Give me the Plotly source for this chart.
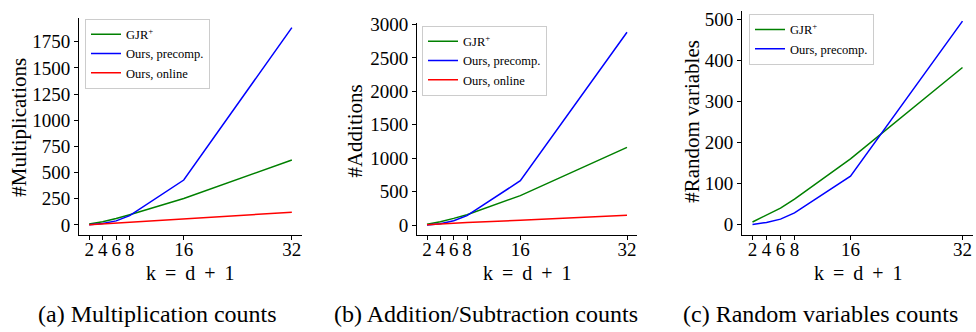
import plotly.graph_objects as go

k = [2, 4, 6, 8, 16, 32]
x_ticks = [2, 4, 6, 8, 16, 32]

mult_gjr = [8, 30, 60, 96, 252, 619]
mult_pre = [0, 12, 38, 88, 428, 1885]
mult_onl = [2, 10, 17, 25, 55, 121]

add_gjr = [12, 50, 100, 155, 440, 1161]
add_pre = [0, 20, 65, 141, 663, 2884]
add_onl = [3, 15, 28, 40, 70, 146]

rand_gjr = [6, 22, 40, 62, 160, 383]
rand_pre = [0, 5, 13, 28, 118, 496]

names = ["GJR<sup>+</sup>", "Ours, precomp.", "Ours, online"]
colors = ["#008000", "#0000ff", "#ff0000"]

y1_ticks = [0, 250, 500, 750, 1000, 1250, 1500, 1750]
y2_ticks = [0, 500, 1000, 1500, 2000, 2500, 3000]
y3_ticks = [0, 100, 200, 300, 400, 500]

y_titles = ["#Multiplications", "#Additions", "#Random variables"]
x_title = "k = d + 1"
captions = ["(a) Multiplication counts", "(b) Addition/Subtraction counts",
            "(c) Random variables counts"]

FONT = "Liberation Serif"
W, H = 976, 332

fig = go.Figure()

panels = [
    (["x", "y"], [mult_gjr, mult_pre, mult_onl], "legend"),
    (["x2", "y2"], [add_gjr, add_pre, add_onl], "legend2"),
    (["x3", "y3"], [rand_gjr, rand_pre], "legend3"),
]
for (xa, ya), series, leg in panels:
    for i, vals in enumerate(series):
        fig.add_trace(go.Scatter(
            x=k, y=vals, mode="lines", name=names[i],
            line=dict(color=colors[i], width=1.5),
            xaxis=xa, yaxis=ya, legend=leg, showlegend=True))


def px_x(p):
    return p / W


def px_y(p):
    return 1 - p / H


axis_common = dict(
    showline=True, linecolor="black", linewidth=1, mirror=False,
    ticks="outside", ticklen=4, tickwidth=1, tickcolor="black",
    showgrid=False, zeroline=False,
    tickfont=dict(family=FONT, size=19, color="black"),
)

domains = [
    ((79, 302), (10, 233), (0.5, 33.5), (-94, 1979), y1_ticks),
    ((417, 637), (15, 233), (0.5, 33.5), (-144, 3028), y2_ticks),
    ((742, 973), (3, 233), (0.5, 33.5), (-25, 521), y3_ticks),
]

layout = {}
for i, ((x0, x1), (t, b), xr, yr, yt) in enumerate(domains):
    sfx = "" if i == 0 else str(i + 1)
    layout["xaxis" + sfx] = dict(
        axis_common, domain=[px_x(x0), px_x(x1)], range=list(xr),
        tickmode="array", tickvals=x_ticks, ticktext=[str(v) for v in x_ticks],
        tickangle=0, anchor="y" + sfx, ticklabelstandoff=-6)
    layout["yaxis" + sfx] = dict(
        axis_common, domain=[px_y(b), px_y(t)], range=list(yr),
        tickmode="array", tickvals=yt, ticktext=[str(v) for v in yt],
        anchor="x" + sfx)

legend_pos = [(85, 11), (422, 18), (749, 6)]
for i, (lx, ly) in enumerate(legend_pos):
    key = "legend" if i == 0 else "legend" + str(i + 1)
    layout[key] = dict(
        x=px_x(lx), y=px_y(ly), xanchor="left", yanchor="top",
        bgcolor="rgba(255,255,255,0.8)", bordercolor="#cccccc", borderwidth=1,
        font=dict(family=FONT, size=12.5, color="black"),
        tracegroupgap=0, itemwidth=30)

annotations = []
ytitle_pos = [(19, 123), (355, 127), (692, 117)]
for txt, (ax, ay) in zip(y_titles, ytitle_pos):
    annotations.append(dict(
        text=txt, x=px_x(ax), y=px_y(ay), xref="paper", yref="paper",
        showarrow=False, textangle=-90, xanchor="center", yanchor="middle",
        font=dict(family=FONT, size=21, color="black")))
for cx in [190, 527, 858]:
    annotations.append(dict(
        text=x_title.replace(" ", "\u2009 "), x=px_x(cx), y=px_y(272),
        xref="paper", yref="paper", showarrow=False,
        xanchor="center", yanchor="middle",
        font=dict(family=FONT, size=20, color="black")))
for txt, cx in zip(captions, [157, 486, 820]):
    annotations.append(dict(
        text=txt, x=px_x(cx), y=px_y(315), xref="paper", yref="paper",
        showarrow=False, xanchor="center", yanchor="middle",
        font=dict(family=FONT, size=24, color="black")))

fig.update_layout(
    width=W, height=H, margin=dict(l=0, r=0, t=0, b=0),
    paper_bgcolor="white", plot_bgcolor="white",
    annotations=annotations, **layout)

fig.write_html(
    "out.html",
    config={"displayModeBar": False},
    post_script="document.body.style.margin='0';document.body.style.overflow='hidden';")
